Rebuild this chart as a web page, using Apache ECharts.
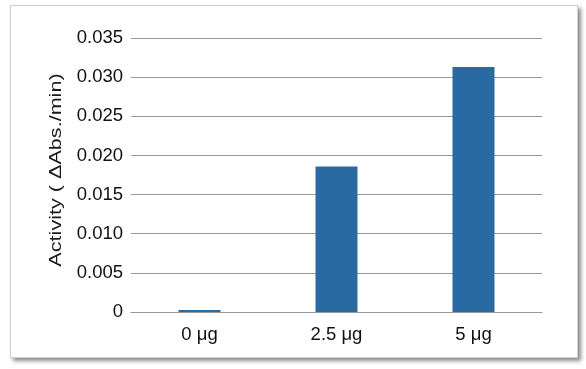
<!DOCTYPE html>
<html><head><meta charset="utf-8">
<script src="https://cdn.jsdelivr.net/npm/echarts@6/dist/echarts.min.js"></script>
<style>
html,body{margin:0;padding:0;background:#fff;}
#frame{position:absolute;left:10px;top:5px;width:566px;height:351px;border:1px solid #d0d0d0;box-shadow:3px 3px 4px rgba(0,0,0,0.45);background:#fff;}
#chart{position:absolute;left:0;top:0;width:586px;height:369px;}
</style></head>
<body>
<div id="frame"></div>
<div id="chart"></div>
<script>
const categories = ['0 μg', '2.5 μg', '5 μg'];
const activity = [0.00025, 0.0186, 0.0313];
const yTicks = { min: 0, max: 0.035, interval: 0.005 };
const yTitle = 'Activity ( ΔAbs./min)';

const chart = echarts.init(document.getElementById('chart'), null, {renderer: 'canvas'});
chart.setOption({
  animation: false,
  grid: { left: 131, right: 44, top: 38, bottom: 57 },
  graphic: [{
    type: 'text', x: 57, y: 170, rotation: Math.PI / 2, scaleX: 1.35,
    style: { text: yTitle, fill: '#1a1a1a', font: '16px "Liberation Sans", Arial', textAlign: 'center', textVerticalAlign: 'middle' }
  }],
  xAxis: {
    type: 'category', data: categories,
    axisLine: { lineStyle: { color: '#999', width: 1 } },
    axisTick: { show: false },
    axisLabel: { color: '#111', fontSize: 18.5, fontFamily: 'Liberation Sans, Arial', margin: 13 }
  },
  yAxis: {
    type: 'value', min: yTicks.min, max: yTicks.max, interval: yTicks.interval,
    axisLine: { show: false }, axisTick: { show: false },
    splitLine: { lineStyle: { color: '#999', width: 1 } },
    axisLabel: {
      color: '#111', fontSize: 18.5, fontFamily: 'Liberation Sans, Arial', margin: 8,
      formatter: v => v === 0 ? '0' : v.toFixed(3)
    }
  },
  series: [{
    type: 'bar', data: activity, barWidth: 42,
    itemStyle: { color: '#2a6aa3' }
  }]
});
</script>
</body></html>
